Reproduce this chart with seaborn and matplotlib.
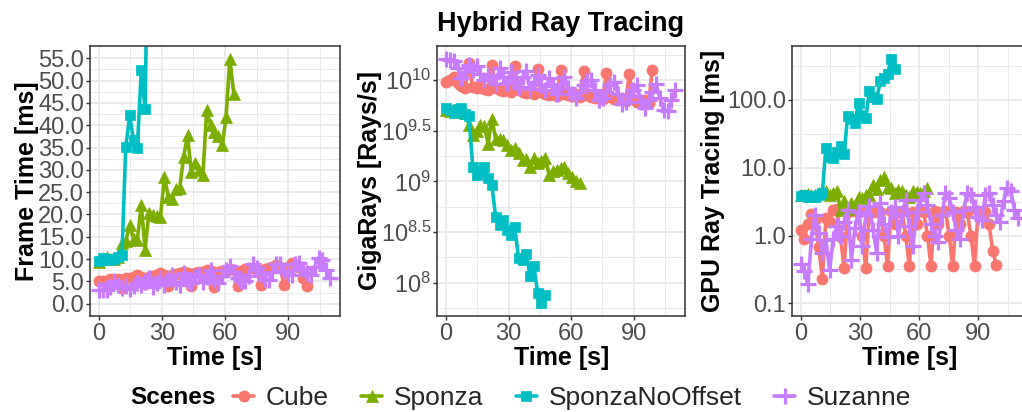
import numpy as np
import pandas as pd
import matplotlib
matplotlib.use("Agg")
import matplotlib.pyplot as plt
from matplotlib.lines import Line2D
from matplotlib.ticker import FixedLocator, FixedFormatter, NullFormatter
import seaborn as sns

# ---------------------------------------------------------------- data
SCENES = ["Cube", "Sponza", "SponzaNoOffset", "Suzanne"]
COLORS = ["#F8766D", "#7CAE00", "#00BFC4", "#C77CFF"]
MARKERS = ["o", "^", "s", "+"]

# sample times [s]; each scene uses the leading part of this list
TIME_S = [0.0, 1.8, 3.7, 5.5, 7.3, 9.2, 11.0, 12.8, 14.7, 16.5, 18.3, 20.2,
          22.0, 23.8, 25.7, 27.5, 29.3, 31.2, 33.0, 34.8, 36.7, 38.5, 40.3,
          42.2, 44.0, 45.8, 47.7, 49.5, 51.3, 53.2, 55.0, 56.8, 58.7, 60.5,
          62.3, 64.2, 66.0, 67.8, 69.7, 71.5, 73.3, 75.2, 77.0, 78.8, 80.7,
          82.5, 84.3, 86.2, 88.0, 89.8, 91.7, 93.5, 95.3, 97.2, 99.0, 100.8,
          102.7, 104.5, 106.3, 108.2, 110.0]

# frame time [ms]
cube_frame = [5.0, 5.2, 4.8, 5.5, 5.4, 5.6,
              3.6, 5.8, 5.7, 6.0, 6.4, 6.1,
              4.4, 6.0, 6.2, 6.4, 6.9, 6.5,
              3.9, 6.4, 6.6, 6.8, 7.2, 6.9,
              3.9, 6.8, 7.0, 7.2, 7.6, 7.3,
              3.7, 7.2, 7.4, 7.5, 7.8, 7.5,
              4.0, 7.4, 7.7, 7.9, 8.1, 7.8,
              4.2, 7.7, 7.9, 8.2, 8.7, 8.3,
              4.2, 8.3, 9.1, 8.6, 8.3, 5.7,
              3.9]
sponza_frame = [9.3, 10.2, 10.5, 10.0, 10.1, 10.4,
                13.5, 14.0, 17.6, 14.5, 14.3, 22.1,
                12.1, 20.3, 19.8, 19.6, 19.5, 28.4,
                24.0, 23.5, 25.8, 26.0, 32.9, 37.7,
                29.5, 31.5, 30.0, 28.8, 43.3, 40.0,
                38.5, 37.5, 35.5, 41.8, 54.9, 47.0]
nooffset_frame = [9.5, 10.2, 10.0, 9.8, 10.1, 10.4,
                  10.9, 35.1, 42.2, 36.6, 34.8, 52.3,
                  43.7, 98.0, 92.0, 90.0, 135.0, 105.0,
                  100.0, 180.0, 155.0, 148.0, 236.0, 255.0,
                  285.0, 450.0, 335.0]
suzanne_frame = [3.1, 3.1, 3.0, 3.8, 5.0, 4.1,
                 3.5, 3.9, 3.3, 4.0, 4.6, 4.2,
                 4.9, 5.8, 3.7, 4.7, 5.7, 4.1,
                 5.6, 6.4, 4.8, 4.1, 6.8, 5.2,
                 4.6, 6.0, 6.5, 4.8, 5.9, 7.5,
                 5.3, 4.6, 6.3, 7.6, 8.5, 7.0,
                 5.7, 5.2, 5.0, 6.3, 8.8, 8.1,
                 6.6, 5.6, 5.3, 7.0, 9.0, 8.8,
                 7.3, 6.6, 6.4, 8.9, 9.2, 7.7,
                 6.9, 6.5, 8.2, 10.3, 9.9, 7.5,
                 5.7]

# ray throughput, as log10(rays / s)
cube_rays_log10 = [9.98, 10.00, 10.03, 9.97, 9.94, 9.92,
                   10.17, 9.93, 9.92, 9.95, 9.91, 9.90,
                   10.15, 9.92, 9.90, 9.89, 9.91, 9.88,
                   10.14, 9.90, 9.88, 9.87, 9.89, 9.86,
                   10.11, 9.88, 9.86, 9.85, 9.87, 9.84,
                   10.10, 9.86, 9.85, 9.84, 9.86, 9.83,
                   10.09, 9.85, 9.83, 9.82, 9.84, 9.81,
                   10.07, 9.83, 9.81, 9.80, 9.82, 9.79,
                   10.06, 9.81, 9.78, 9.79, 9.80, 9.77,
                   10.10]
sponza_rays_log10 = [9.70, 9.69, 9.70, 9.68, 9.69, 9.67,
                     9.56, 9.46, 9.50, 9.56, 9.55, 9.37,
                     9.62, 9.42, 9.42, 9.41, 9.36, 9.31,
                     9.33, 9.28, 9.21, 9.22, 9.14, 9.23,
                     9.18, 9.20, 9.23, 9.06, 9.10, 9.11,
                     9.13, 9.14, 9.08, 9.045, 9.00, 8.98]
nooffset_rays_log10 = [9.72, 9.70, 9.67, 9.71, 9.72, 9.66,
                       9.65, 9.14, 9.06, 9.10, 9.14, 9.03,
                       8.96, 8.65, 8.57, 8.62, 8.52, 8.47,
                       8.55, 8.24, 8.22, 8.28, 8.07, 8.16,
                       7.90, 7.80, 7.88]
suzanne_rays_log10 = [10.21, 10.20, 10.19, 10.12, 10.02, 10.08,
                      10.15, 10.10, 10.14, 10.06, 10.00, 10.05,
                      10.02, 9.96, 10.12, 10.03, 9.97, 10.08,
                      9.98, 9.93, 10.03, 10.09, 9.91, 9.98,
                      10.05, 9.95, 9.90, 10.02, 9.94, 9.86,
                      9.96, 10.03, 9.92, 9.86, 9.82, 9.88,
                      9.95, 9.99, 10.00, 9.90, 9.80, 9.82,
                      9.88, 9.95, 9.98, 9.86, 9.76, 9.78,
                      9.84, 9.90, 9.95, 9.78, 9.72, 9.80,
                      9.88, 9.96, 9.82, 9.70, 9.69, 9.80,
                      9.90]

# GPU ray tracing time [ms]
cube_gpu = [1.2, 0.9, 1.5, 2.1, 1.7, 0.67,
            0.23, 1.8, 1.6, 2.4, 2.5, 0.95,
            0.33, 2.2, 2.4, 2.3, 2.2, 1.0,
            0.33, 2.4, 2.2, 2.3, 2.2, 1.0,
            0.35, 2.3, 1.5, 2.2, 2.3, 1.0,
            0.35, 2.2, 1.5, 2.3, 2.2, 1.0,
            0.35, 2.3, 1.5, 2.2, 2.3, 1.0,
            0.35, 2.2, 1.5, 2.3, 2.2, 1.0,
            0.35, 2.3, 2.2, 2.2, 1.5, 0.6,
            0.37]
sponza_gpu = [4.0, 3.9, 4.1, 3.9, 4.0, 4.2,
              4.6, 4.5, 3.9, 4.2, 4.6, 2.4,
              3.2, 2.5, 3.0, 2.8, 3.7, 3.6,
              3.9, 4.0, 5.6, 4.8, 6.5, 7.4,
              5.2, 5.0, 4.2, 4.7, 4.6, 4.0,
              3.7, 4.5, 4.4, 4.3, 4.6, 5.0]
nooffset_gpu = [3.8, 3.9, 3.7, 3.8, 3.7, 4.0,
                4.3, 19.8, 14.5, 14.1, 17.0, 21.0,
                15.8, 58.0, 52.0, 46.0, 91.0, 60.0,
                55.0, 136.0, 110.0, 102.0, 191.0, 210.0,
                239.0, 407.0, 290.0]
suzanne_gpu = [0.38, 0.30, 0.19, 0.9, 2.0, 1.1,
               0.55, 0.85, 0.31, 0.9, 1.4, 1.0,
               1.6, 2.4, 0.44, 1.3, 2.2, 0.7,
               2.0, 2.7, 1.2, 0.55, 3.0, 1.5,
               0.95, 2.2, 2.6, 1.0, 2.0, 3.4,
               1.4, 0.69, 2.2, 3.4, 4.2, 2.8,
               1.5, 1.0, 0.8, 2.0, 4.2, 3.6,
               2.2, 1.2, 0.9, 2.4, 4.2, 4.0,
               2.6, 1.9, 1.7, 4.0, 4.2, 2.8,
               2.0, 1.6, 3.2, 5.0, 4.6, 2.4,
               1.8]

FRAME = [cube_frame, sponza_frame, nooffset_frame, suzanne_frame]
RAYS = [cube_rays_log10, sponza_rays_log10, nooffset_rays_log10, suzanne_rays_log10]
GPU = [cube_gpu, sponza_gpu, nooffset_gpu, suzanne_gpu]

frames = []
for scene, ft, rl, gpu in zip(SCENES, FRAME, RAYS, GPU):
    n = len(ft)
    frames.append(pd.DataFrame({
        "scene": scene,
        "time": TIME_S[:n],
        "frame_ms": ft,
        "rays_per_s": 10.0 ** np.asarray(rl),
        "gpu_ms": gpu,
    }))
df = pd.concat(frames, ignore_index=True)

# ---------------------------------------------------------------- style
sns.set_theme(style="white")
plt.rcParams["font.family"] = ["Liberation Sans", "DejaVu Sans"]
plt.rcParams["mathtext.fontset"] = "custom"
plt.rcParams["mathtext.rm"] = "Liberation Sans"
plt.rcParams["mathtext.it"] = "Liberation Sans:italic"
plt.rcParams["mathtext.default"] = "regular"

TICK_COLOR = "#4D4D4D"
GRID_COLOR = "#EBEBEB"
FRAME_COLOR = "#333333"
TICK_SIZE = 17
LABEL_SIZE = 18
LINE_W = 2.6

W, H = 1022, 412
fig = plt.figure(figsize=(W / 100, H / 100), dpi=100)
fig.patch.set_facecolor("white")


def panel(left, right, top, bottom):
    return fig.add_axes([left / W, 1 - bottom / H, (right - left) / W, (bottom - top) / H])


ax1 = panel(90, 340, 46, 316)
ax2 = panel(437.3, 685, 46, 316)
ax3 = panel(792.3, 1027.3, 46, 316)

MS = {"o": 8.0, "^": 8.5, "s": 7.6, "+": 11.0}
MEW = {"o": 0.5, "^": 0.5, "s": 0.5, "+": 2.3}
for ax, col in [(ax1, "frame_ms"), (ax2, "rays_per_s"), (ax3, "gpu_ms")]:
    for scene, color, marker in zip(SCENES, COLORS, MARKERS):
        sub = df[df["scene"] == scene]
        sns.lineplot(data=sub, x="time", y=col, color=color, marker=marker,
                     markersize=MS[marker], markeredgecolor=color,
                     markerfacecolor=color, markeredgewidth=MEW[marker],
                     linewidth=LINE_W, estimator=None, sort=False,
                     legend=False, ax=ax)

XLIM = (-4.2, 114.7)
for ax in (ax1, ax2, ax3):
    ax.set_xlim(*XLIM)
    ax.xaxis.set_major_locator(FixedLocator([0, 30, 60, 90]))
    ax.xaxis.set_minor_locator(FixedLocator([15, 45, 75, 105]))
    ax.set_facecolor("white")
    ax.set_axisbelow(True)
    ax.grid(which="major", color=GRID_COLOR, linewidth=1.4)
    ax.grid(which="minor", color=GRID_COLOR, linewidth=0.7)
    ax.tick_params(which="major", length=2.8, width=1.0, color=FRAME_COLOR,
                   labelsize=TICK_SIZE, labelcolor=TICK_COLOR, pad=1.5,
                   left=True, bottom=True)
    ax.tick_params(axis="x", which="major", pad=2.5)
    ax.tick_params(which="minor", length=0)
    for sp in ax.spines.values():
        sp.set_color(FRAME_COLOR)
        sp.set_linewidth(1.1)
        sp.set_visible(True)
    ax.set_xlabel("Time [s]", fontsize=LABEL_SIZE, fontweight="bold", color="black")
    ax.xaxis.set_label_coords(0.5, -0.112)
    ax.xaxis.label.set_va("top")

# frame time panel
ax1.set_ylim(-2.75, 57.75)
ax1.yaxis.set_major_locator(FixedLocator(np.arange(0, 56, 5)))
ax1.yaxis.set_major_formatter(FixedFormatter([f"{v:.1f}" for v in np.arange(0, 56, 5)]))
ax1.yaxis.set_minor_locator(FixedLocator(np.arange(2.5, 56, 5)))
ax1.set_ylabel("Frame Time [ms]", fontsize=LABEL_SIZE, fontweight="bold", color="black")
ax1.yaxis.set_label_coords(-0.205, 0.5)

# throughput panel
ax2.set_yscale("log")
ax2.set_ylim(10 ** 7.671, 10 ** 10.336)
ray_exp = [8, 8.5, 9, 9.5, 10]
ax2.yaxis.set_major_locator(FixedLocator([10.0 ** e for e in ray_exp]))
ax2.yaxis.set_major_formatter(FixedFormatter([r"$10^{%g}$" % e for e in ray_exp]))
ax2.yaxis.set_minor_locator(FixedLocator([10.0 ** e for e in np.arange(7.75, 10.3, 0.5)]))
ax2.yaxis.set_minor_formatter(NullFormatter())
ax2.set_ylabel("GigaRays [Rays/s]", fontsize=LABEL_SIZE, fontweight="bold", color="black")
ax2.yaxis.set_label_coords(-0.225, 0.5)

# GPU time panel
ax3.set_yscale("log")
ax3.set_ylim(10 ** -1.187, 10 ** 2.796)
gpu_ticks = [0.1, 1.0, 10.0, 100.0]
ax3.yaxis.set_major_locator(FixedLocator(gpu_ticks))
ax3.yaxis.set_major_formatter(FixedFormatter([f"{v:.1f}" for v in gpu_ticks]))
ax3.yaxis.set_minor_locator(FixedLocator([10.0 ** e for e in [-0.5, 0.5, 1.5, 2.5]]))
ax3.yaxis.set_minor_formatter(NullFormatter())
ax3.set_ylabel("GPU Ray Tracing [ms]", fontsize=LABEL_SIZE, fontweight="bold", color="black")
ax3.yaxis.set_label_coords(-0.285, 0.5)

fig.text(561 / W, 1 - 31 / H, "Hybrid Ray Tracing", ha="center", va="baseline",
         fontsize=19.5, fontweight="bold", color="black")

# legend along the bottom
fig.text(130 / W, 1 - 398 / H, "Scenes", ha="left", va="center",
         fontsize=17.5, fontweight="bold", color="black")
handles = [Line2D([], [], color=c, marker=m, markersize=MS[m], markeredgecolor=c,
                  markeredgewidth=MEW[m], linewidth=LINE_W)
           for c, m in zip(COLORS, MARKERS)]
fig.legend(handles, SCENES, loc="center left", bbox_to_anchor=(233 / W, 1 - 398 / H),
           ncol=4, frameon=False, fontsize=19, handlelength=0.8,
           handletextpad=0.45, columnspacing=1.22, borderaxespad=0, borderpad=0)

fig.savefig("out.png", dpi=100, facecolor="white")
